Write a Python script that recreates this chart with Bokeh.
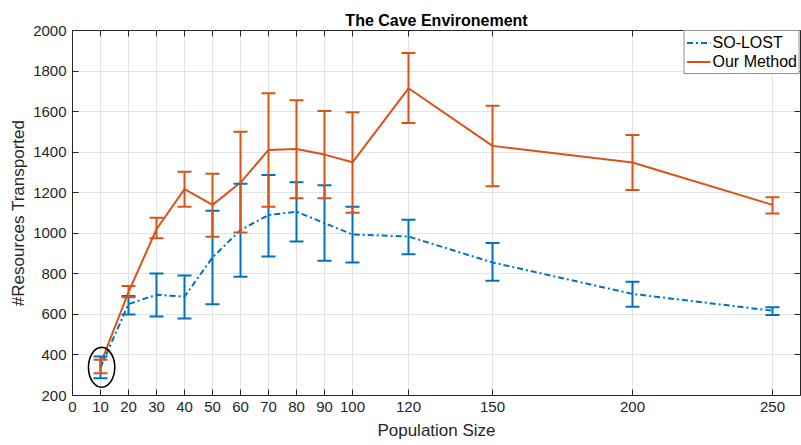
from bokeh.plotting import figure
from bokeh.models import (Whisker, ColumnDataSource, TeeHead, LinearAxis, FixedTicker,
                          Range1d, Legend, LegendItem)
from bokeh.embed import file_html
from bokeh.resources import INLINE

pop = [10, 20, 30, 40, 50, 60, 70, 80, 90, 100, 120, 150, 200, 250]
so_mean = [338, 651, 697, 687, 881, 1016, 1090, 1106, 1050, 994, 984, 856, 701, 618]
so_upper = [392, 691, 802, 792, 1111, 1244, 1287, 1252, 1237, 1131, 1067, 952, 761, 635]
so_lower = [285, 600, 590, 580, 650, 786, 886, 960, 865, 856, 896, 766, 638, 597]
our_mean = [356, 710, 1020, 1218, 1140, 1250, 1411, 1416, 1388, 1350, 1715, 1431, 1349, 1140]
our_upper = [376, 740, 1076, 1304, 1294, 1501, 1690, 1656, 1603, 1597, 1889, 1629, 1485, 1178]
our_lower = [310, 684, 976, 1131, 983, 1004, 1131, 1173, 1173, 1101, 1544, 1232, 1214, 1098]
x_ticks = [0, 10, 20, 30, 40, 50, 60, 70, 80, 90, 100, 120, 150, 200, 250]
y_ticks = [200, 400, 600, 800, 1000, 1200, 1400, 1600, 1800, 2000]
series_names = ["SO-LOST", "Our Method"]
highlight_center = (10.4, 339)
highlight_size = (9.4, 197)

BLUE = "#0072BD"
ORANGE = "#D95319"
AX = "#262626"
FONT = "Liberation Sans"

p = figure(width=801, height=445, output_backend="svg", toolbar_location=None,
           x_range=Range1d(0, 260), y_range=Range1d(200, 2000),
           title="The Cave Environement",
           min_border_left=72, min_border_right=1, min_border_top=30, min_border_bottom=50)
p.outline_line_color = None
p.title.text_font = FONT
p.title.text_font_size = "16px"
p.title.text_font_style = "bold"
p.title.text_color = "black"
p.title.align = "center"
p.title.offset = 0
p.title.standoff = 4

for ax, ticks in ((p.xaxis[0], x_ticks), (p.yaxis[0], y_ticks)):
    ax.ticker = FixedTicker(ticks=ticks)
    ax.major_tick_in = 6
    ax.major_tick_out = 0
    ax.minor_tick_line_color = None
    ax.axis_line_color = AX
    ax.major_tick_line_color = AX
    ax.major_label_text_font = FONT
    ax.major_label_text_font_size = "15px"
    ax.major_label_text_color = AX
    ax.axis_label_text_font = FONT
    ax.axis_label_text_font_size = "17px"
    ax.axis_label_text_font_style = "normal"
    ax.axis_label_text_color = AX
p.xaxis.major_label_standoff = 6
p.xaxis.axis_label_standoff = 6
p.yaxis.major_label_standoff = 6
p.yaxis.axis_label_standoff = 2
p.xaxis.axis_label = "Population Size"
p.yaxis.axis_label = "#Resources Transported"

top = LinearAxis(ticker=FixedTicker(ticks=x_ticks), major_label_text_font_size="0px",
                 major_label_text_color=None,
                 major_tick_in=6, major_tick_out=0, minor_tick_line_color=None,
                 major_label_standoff=0, axis_line_color=AX, major_tick_line_color=AX)
right = LinearAxis(ticker=FixedTicker(ticks=y_ticks), major_label_text_font_size="0px",
                   major_label_text_color=None,
                   major_tick_in=6, major_tick_out=0, minor_tick_line_color=None,
                   major_label_standoff=0, axis_line_color=AX, major_tick_line_color=AX)
p.add_layout(top, "above")
p.add_layout(right, "right")

p.xgrid.ticker = FixedTicker(ticks=x_ticks)
p.ygrid.ticker = FixedTicker(ticks=y_ticks)
p.grid.grid_line_color = "#e3e3e3"
p.grid.grid_line_width = 1

src_so = ColumnDataSource(dict(x=pop, y=so_mean, upper=so_upper, lower=so_lower))
src_our = ColumnDataSource(dict(x=pop, y=our_mean, upper=our_upper, lower=our_lower))

w1 = Whisker(base="x", upper="upper", lower="lower", source=src_so, level="glyph",
             line_color=BLUE, line_width=2,
             upper_head=TeeHead(size=14, line_color=BLUE, line_width=2),
             lower_head=TeeHead(size=14, line_color=BLUE, line_width=2))
p.add_layout(w1)
r1 = p.line("x", "y", source=src_so, line_color=BLUE, line_width=2, line_dash="6 3 2 3")

w2 = Whisker(base="x", upper="upper", lower="lower", source=src_our, level="glyph",
             line_color=ORANGE, line_width=2,
             upper_head=TeeHead(size=14, line_color=ORANGE, line_width=2),
             lower_head=TeeHead(size=14, line_color=ORANGE, line_width=2))
p.add_layout(w2)
r2 = p.line("x", "y", source=src_our, line_color=ORANGE, line_width=2)

p.ellipse(x=[highlight_center[0]], y=[highlight_center[1]], width=highlight_size[0],
          height=highlight_size[1], fill_color=None, line_color="black", line_width=1.6)

legend = Legend(items=[LegendItem(label=series_names[0], renderers=[r1]),
                       LegendItem(label=series_names[1], renderers=[r2])],
                location="top_right", margin=0, padding=2, spacing=0,
                label_text_font=FONT, label_text_font_size="16px", label_text_color="black",
                glyph_width=24, glyph_height=19, label_standoff=2, label_height=19,
                border_line_color=AX, border_line_width=1, background_fill_alpha=1)
p.add_layout(legend)

open("out.html", "w").write(file_html(p, INLINE))
